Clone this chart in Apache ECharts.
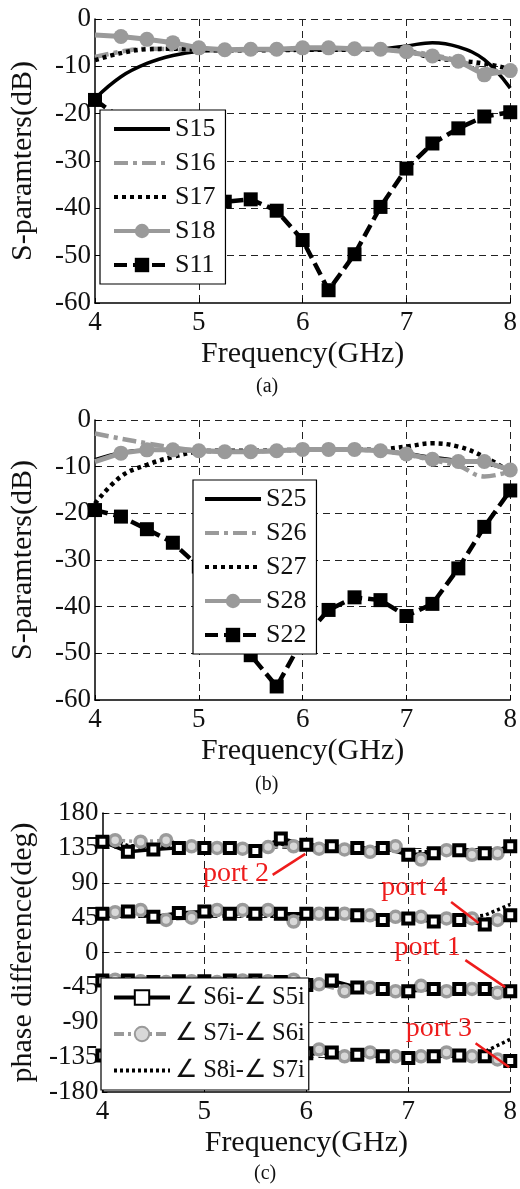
<!DOCTYPE html>
<html>
<head>
<meta charset="utf-8">
<script src="https://cdn.jsdelivr.net/npm/echarts@6/dist/echarts.min.js"></script>
<style>
html,body{margin:0;padding:0;background:#fff;}
#c{width:520px;height:1189px;}
</style>
</head>
<body>
<div id="c"></div>
<script>
// ---------- data ----------
const freqs = [4, 4.25, 4.5, 4.75, 5, 5.25, 5.5, 5.75, 6, 6.25, 6.5, 6.75, 7, 7.25, 7.5, 7.75, 8];
const circFreqs = [4.125, 4.375, 4.625, 4.875, 5.125, 5.375, 5.625, 5.875, 6.125, 6.375, 6.625, 6.875, 7.125, 7.375, 7.625, 7.875];

// panel (a)
const S15 = [-16.8, -12.2, -9.4, -7.7, -6.8, -6.6, -6.6, -6.6, -6.5, -6.5, -6.4, -6.3, -5.7, -5.0, -5.9, -8.6, -14.6];
const S16 = [-8.0, -6.9, -6.3, -6.4, -6.5, -6.6, -6.6, -6.5, -6.4, -6.4, -6.4, -6.5, -6.8, -7.6, -8.8, -10.5, -11.5];
const S17 = [-8.7, -7.2, -6.4, -6.3, -6.5, -6.6, -6.6, -6.6, -6.5, -6.5, -6.5, -6.5, -6.8, -8.2, -8.8, -9.4, -10.6];
const S18 = [-3.4, -3.7, -4.3, -5.0, -6.1, -6.5, -6.4, -6.4, -6.1, -6.1, -6.3, -6.4, -6.9, -7.8, -8.9, -11.8, -10.9];
const S11 = [-17.1, -21, -26, -31, -35, -38.6, -38.1, -40.5, -46.7, -57.3, -49.7, -39.7, -31.6, -26.3, -23.1, -20.6, -19.7];

// panel (b)
const S25 = [-8.5, -7.0, -6.5, -6.5, -6.6, -6.7, -6.7, -6.6, -6.4, -6.4, -6.4, -6.6, -7.2, -8.0, -8.7, -9.2, -10.8];
const S26 = [-2.9, -4.0, -5.0, -5.9, -6.5, -6.7, -6.7, -6.6, -6.4, -6.4, -6.4, -6.6, -7.4, -8.6, -9.8, -12.1, -11.0];
const S27 = [-17.9, -12.1, -9.6, -7.9, -6.8, -6.6, -6.6, -6.5, -6.4, -6.4, -6.4, -6.3, -5.7, -5.0, -5.7, -7.9, -11.1];
const S28 = [-8.9, -7.1, -6.4, -6.4, -6.6, -6.8, -6.8, -6.6, -6.3, -6.3, -6.3, -6.6, -7.3, -8.4, -8.9, -8.9, -10.7];
const S22 = [-19.3, -20.7, -23.4, -26.3, -31.4, -41, -50.4, -57.1, -47, -40.7, -38.0, -38.6, -42.0, -39.4, -31.8, -22.9, -15.1];

// panel (c): one row per port (port 2, port 4, port 1, port 3)
const phaseSq = [
  [143, 130, 133, 135, 135, 135, 131, 147, 139, 137, 135, 135, 126, 128, 132, 128, 137],
  [50, 53, 46, 51, 53, 50, 50, 50, 50, 50, 48, 42, 44, 40, 42, 36, 48],
  [-36, -36, -38, -37, -37, -36, -36, -38, -42, -36, -45, -47, -50, -47, -47, -47, -50],
  [-133, -133, -133, -133, -133, -133, -133, -133, -130, -129, -132, -134, -136, -134, -133, -134, -140]
];
const phaseCi = [
  [145, 143, 145, 137, 135, 134, 136, 137, 134, 133, 130, 137, 120, 132, 126, 128],
  [52, 55, 42, 45, 55, 55, 55, 40, 50, 50, 48, 46, 46, 44, 44, 42],
  [-35, -37, -38, -37, -38, -36, -37, -35, -41, -50, -45, -50, -43, -50, -47, -52],
  [-132, -132, -132, -132, -132, -132, -132, -132, -125, -134, -129, -134, -134, -129, -134, -138]
];
const phaseDot = [
  [148, 138, 137, 136, 136, 136, 135, 140, 137, 136, 135, 134, 130, 130, 131, 131, 134],
  [47, 47, 47, 47, 48, 48, 47, 47, 46, 46, 45, 44, 44, 44, 44, 48, 62],
  [-37, -37, -37, -37, -37, -37, -37, -38, -41, -40, -45, -47, -48, -47, -47, -47, -47],
  [-133, -133, -133, -133, -133, -133, -133, -133, -131, -130, -132, -134, -135, -134, -133, -128, -112]
];
const phaseNames = ['\u2220 S6i-\u2220 S5i', '\u2220 S7i-\u2220 S6i', '\u2220 S8i-\u2220 S7i'];

// annotation labels & arrows (data coordinates: GHz, deg)
const portLabels = [
  { text: 'port 2', at: [5.31, 101.5], tail: [5.67, 100.2], tip: [5.99, 127.3] },
  { text: 'port 4', at: [7.06, 83.4], tail: [7.42, 65.3], tip: [7.69, 38.1] },
  { text: 'port 1', at: [7.19, 5.8], tail: [7.56, -9.8], tip: [7.95, -44.7] },
  { text: 'port 3', at: [7.30, -97.7], tail: [7.66, -117.2], tip: [7.99, -148.2] }
];

// ---------- styling ----------
const FONT = '"Liberation Serif","Times New Roman",serif';
const GRAY = '#9a9a9a';
const BLACK = '#000';
const RED = '#ee1c1c';

function pairs(xs, ys) { return xs.map((x, i) => [x, ys[i]]); }
function pairsNoFirstSymbol(xs, ys) {
  return xs.map((x, i) => i === 0 ? { value: [x, ys[i]], symbol: 'none' } : [x, ys[i]]);
}
function xAxisOf(gi) {
  return {
    gridIndex: gi, type: 'value', min: 4, max: 8, interval: 1,
    name: 'Frequency(GHz)', nameLocation: 'middle', nameGap: 36,
    nameTextStyle: { fontFamily: FONT, fontSize: 30, color: '#111' },
    axisLine: { onZero: false, lineStyle: { color: BLACK, width: 1.5 } },
    axisTick: { inside: true, length: 5, lineStyle: { color: BLACK } },
    axisLabel: { fontFamily: FONT, fontSize: 27, color: '#111', margin: 6 },
    splitLine: { show: true, showMinLine: false, showMaxLine: true, lineStyle: { color: '#222', type: [7, 5], width: 1 } }
  };
}
function yAxisOf(gi, min, max, interval, name, gap) {
  return {
    gridIndex: gi, type: 'value', min: min, max: max, interval: interval,
    name: name, nameLocation: 'middle', nameGap: gap,
    nameTextStyle: { fontFamily: FONT, fontSize: 30, color: '#111' },
    axisLine: { onZero: false, lineStyle: { color: BLACK, width: 1.5 } },
    axisTick: { inside: true, length: 5, lineStyle: { color: BLACK } },
    axisLabel: { fontFamily: FONT, fontSize: 27, color: '#111', margin: 4 },
    splitLine: { show: true, showMinLine: false, showMaxLine: true, lineStyle: { color: '#222', type: [7, 5], width: 1 } }
  };
}
const noMarker = { opacity: 0 };
function legendOf(items, left, top, lineH, gap, pad, fontSize) {
  return {
    data: items, orient: 'vertical', left: left, top: top,
    backgroundColor: '#fff', borderColor: '#000', borderWidth: 1.2,
    padding: pad, itemGap: gap, itemWidth: 56, itemHeight: 18,
    lineStyle: { width: 4 },
    textStyle: { fontFamily: FONT, fontSize: fontSize, color: '#111', lineHeight: lineH, height: lineH },
    selectedMode: false
  };
}

const series = [];
// (a)
series.push({ name: 'S15', type: 'line', xAxisIndex: 0, yAxisIndex: 0, data: pairs(freqs, S15), smooth: 0.4, symbol: 'none', lineStyle: { color: BLACK, width: 3.5 }, itemStyle: { color: BLACK } });
series.push({ name: 'S16', type: 'line', xAxisIndex: 0, yAxisIndex: 0, data: pairs(freqs, S16), smooth: 0.4, symbol: 'none', lineStyle: { color: GRAY, width: 4.5, type: [14, 5, 4, 5] }, itemStyle: { color: GRAY } });
series.push({ name: 'S17', type: 'line', xAxisIndex: 0, yAxisIndex: 0, data: pairs(freqs, S17), smooth: 0.4, symbol: 'none', lineStyle: { color: BLACK, width: 4.5, type: [4, 4] }, itemStyle: { color: BLACK } });
series.push({ name: 'S18', type: 'line', xAxisIndex: 0, yAxisIndex: 0, data: pairsNoFirstSymbol(freqs, S18), symbol: 'circle', symbolSize: 15, showAllSymbol: true, lineStyle: { color: GRAY, width: 5 }, itemStyle: { color: GRAY } });
series.push({ name: 'S11', type: 'line', xAxisIndex: 0, yAxisIndex: 0, data: pairs(freqs, S11), symbol: 'rect', symbolSize: 14, showAllSymbol: true, lineStyle: { color: BLACK, width: 4.5, type: [13, 6] }, itemStyle: { color: BLACK } });
// (b)
series.push({ name: 'S25', type: 'line', xAxisIndex: 1, yAxisIndex: 1, data: pairs(freqs, S25), smooth: 0.4, symbol: 'none', lineStyle: { color: BLACK, width: 3.5 }, itemStyle: { color: BLACK } });
series.push({ name: 'S26', type: 'line', xAxisIndex: 1, yAxisIndex: 1, data: pairs(freqs, S26), smooth: 0.4, symbol: 'none', lineStyle: { color: GRAY, width: 4.5, type: [14, 5, 4, 5] }, itemStyle: { color: GRAY } });
series.push({ name: 'S27', type: 'line', xAxisIndex: 1, yAxisIndex: 1, data: pairs(freqs, S27), smooth: 0.4, symbol: 'none', lineStyle: { color: BLACK, width: 4.5, type: [4, 4] }, itemStyle: { color: BLACK } });
series.push({ name: 'S28', type: 'line', xAxisIndex: 1, yAxisIndex: 1, data: pairsNoFirstSymbol(freqs, S28), symbol: 'circle', symbolSize: 15, showAllSymbol: true, lineStyle: { color: GRAY, width: 5 }, itemStyle: { color: GRAY } });
series.push({ name: 'S22', type: 'line', xAxisIndex: 1, yAxisIndex: 1, data: pairs(freqs, S22), symbol: 'rect', symbolSize: 14, showAllSymbol: true, lineStyle: { color: BLACK, width: 4.5, type: [13, 6] }, itemStyle: { color: BLACK } });
// (c)
for (let r = 0; r < 4; r++) {
  series.push({ name: phaseNames[1], type: 'line', xAxisIndex: 2, yAxisIndex: 2, data: pairs(circFreqs, phaseCi[r]), symbol: 'circle', symbolSize: 11, showAllSymbol: true,
    lineStyle: { color: GRAY, width: 3.5, type: [10, 4, 3, 4] }, itemStyle: { color: '#d8d8d8', borderColor: GRAY, borderWidth: 3.5 } });
  series.push({ name: phaseNames[0], type: 'line', xAxisIndex: 2, yAxisIndex: 2, data: pairs(freqs, phaseSq[r]), symbol: 'rect', symbolSize: 10, showAllSymbol: true,
    lineStyle: { color: BLACK, width: 3.5 }, itemStyle: { color: '#fff', borderColor: BLACK, borderWidth: 4 } });
  series.push({ name: phaseNames[2], type: 'line', xAxisIndex: 2, yAxisIndex: 2, data: pairs(freqs, phaseDot[r]), symbol: 'none',
    lineStyle: { color: BLACK, width: 3.5, type: [3, 3] }, itemStyle: { color: BLACK } });
}
// annotations in (c)
series.push({
  name: 'annot', type: 'line', xAxisIndex: 2, yAxisIndex: 2, data: [], symbol: 'none', silent: true,
  markLine: {
    silent: true, symbol: ['none', 'arrow'], symbolSize: [0, 18], animation: false,
    lineStyle: { color: RED, width: 2.5, type: 'solid' }, label: { show: false },
    data: portLabels.map(p => [{ coord: p.tail }, { coord: p.tip }])
  },
  markPoint: {
    silent: true, symbol: 'circle', symbolSize: 0, animation: false,
    label: { show: true, position: 'inside', formatter: '{b}', fontFamily: FONT, fontSize: 28, color: RED },
    data: portLabels.map(p => ({ name: p.text, coord: p.at }))
  }
});

const option = {
  animation: false,
  backgroundColor: '#fff',
  grid: [
    { left: 90, top: 19, width: 422, height: 284 },
    { left: 89, top: 420, width: 422, height: 280 },
    { left: 99, top: 813, width: 417, height: 279 }
  ],
  xAxis: [xAxisOf(0), xAxisOf(1), xAxisOf(2)],
  yAxis: [
    yAxisOf(0, -60, 0, 10, 'S-paramters(dB)', 57),
    yAxisOf(1, -60, 0, 10, 'S-paramters(dB)', 57),
    yAxisOf(2, -180, 180, 45, 'phase difference(deg)', 60)
  ],
  legend: [
    legendOf([{ name: 'S15', itemStyle: noMarker }, { name: 'S16', itemStyle: noMarker }, { name: 'S17', itemStyle: noMarker }, 'S18', 'S11'],
      100, 110, 30, 4, [4, 10, 4, 12], 26),
    legendOf([{ name: 'S25', itemStyle: noMarker }, { name: 'S26', itemStyle: noMarker }, { name: 'S27', itemStyle: noMarker }, 'S28', 'S22'],
      193, 480, 30, 4, [4, 10, 4, 10], 26),
    legendOf([phaseNames[0], phaseNames[1], { name: phaseNames[2], itemStyle: noMarker }],
      101, 978, 32, 4.5, [3.5, 4, 3.5, 11], 24.5)
  ],
  graphic: [
    { type: 'text', left: 256, top: 377, style: { text: '(a)', font: '20px ' + FONT, fill: '#111' } },
    { type: 'text', left: 255, top: 775, style: { text: '(b)', font: '20px ' + FONT, fill: '#111' } },
    { type: 'text', left: 254, top: 1164, style: { text: '(c)', font: '20px ' + FONT, fill: '#111' } }
  ],
  series: series
};

const chart = echarts.init(document.getElementById('c'), null, { renderer: 'canvas' });
chart.setOption(option);
</script>
</body>
</html>
